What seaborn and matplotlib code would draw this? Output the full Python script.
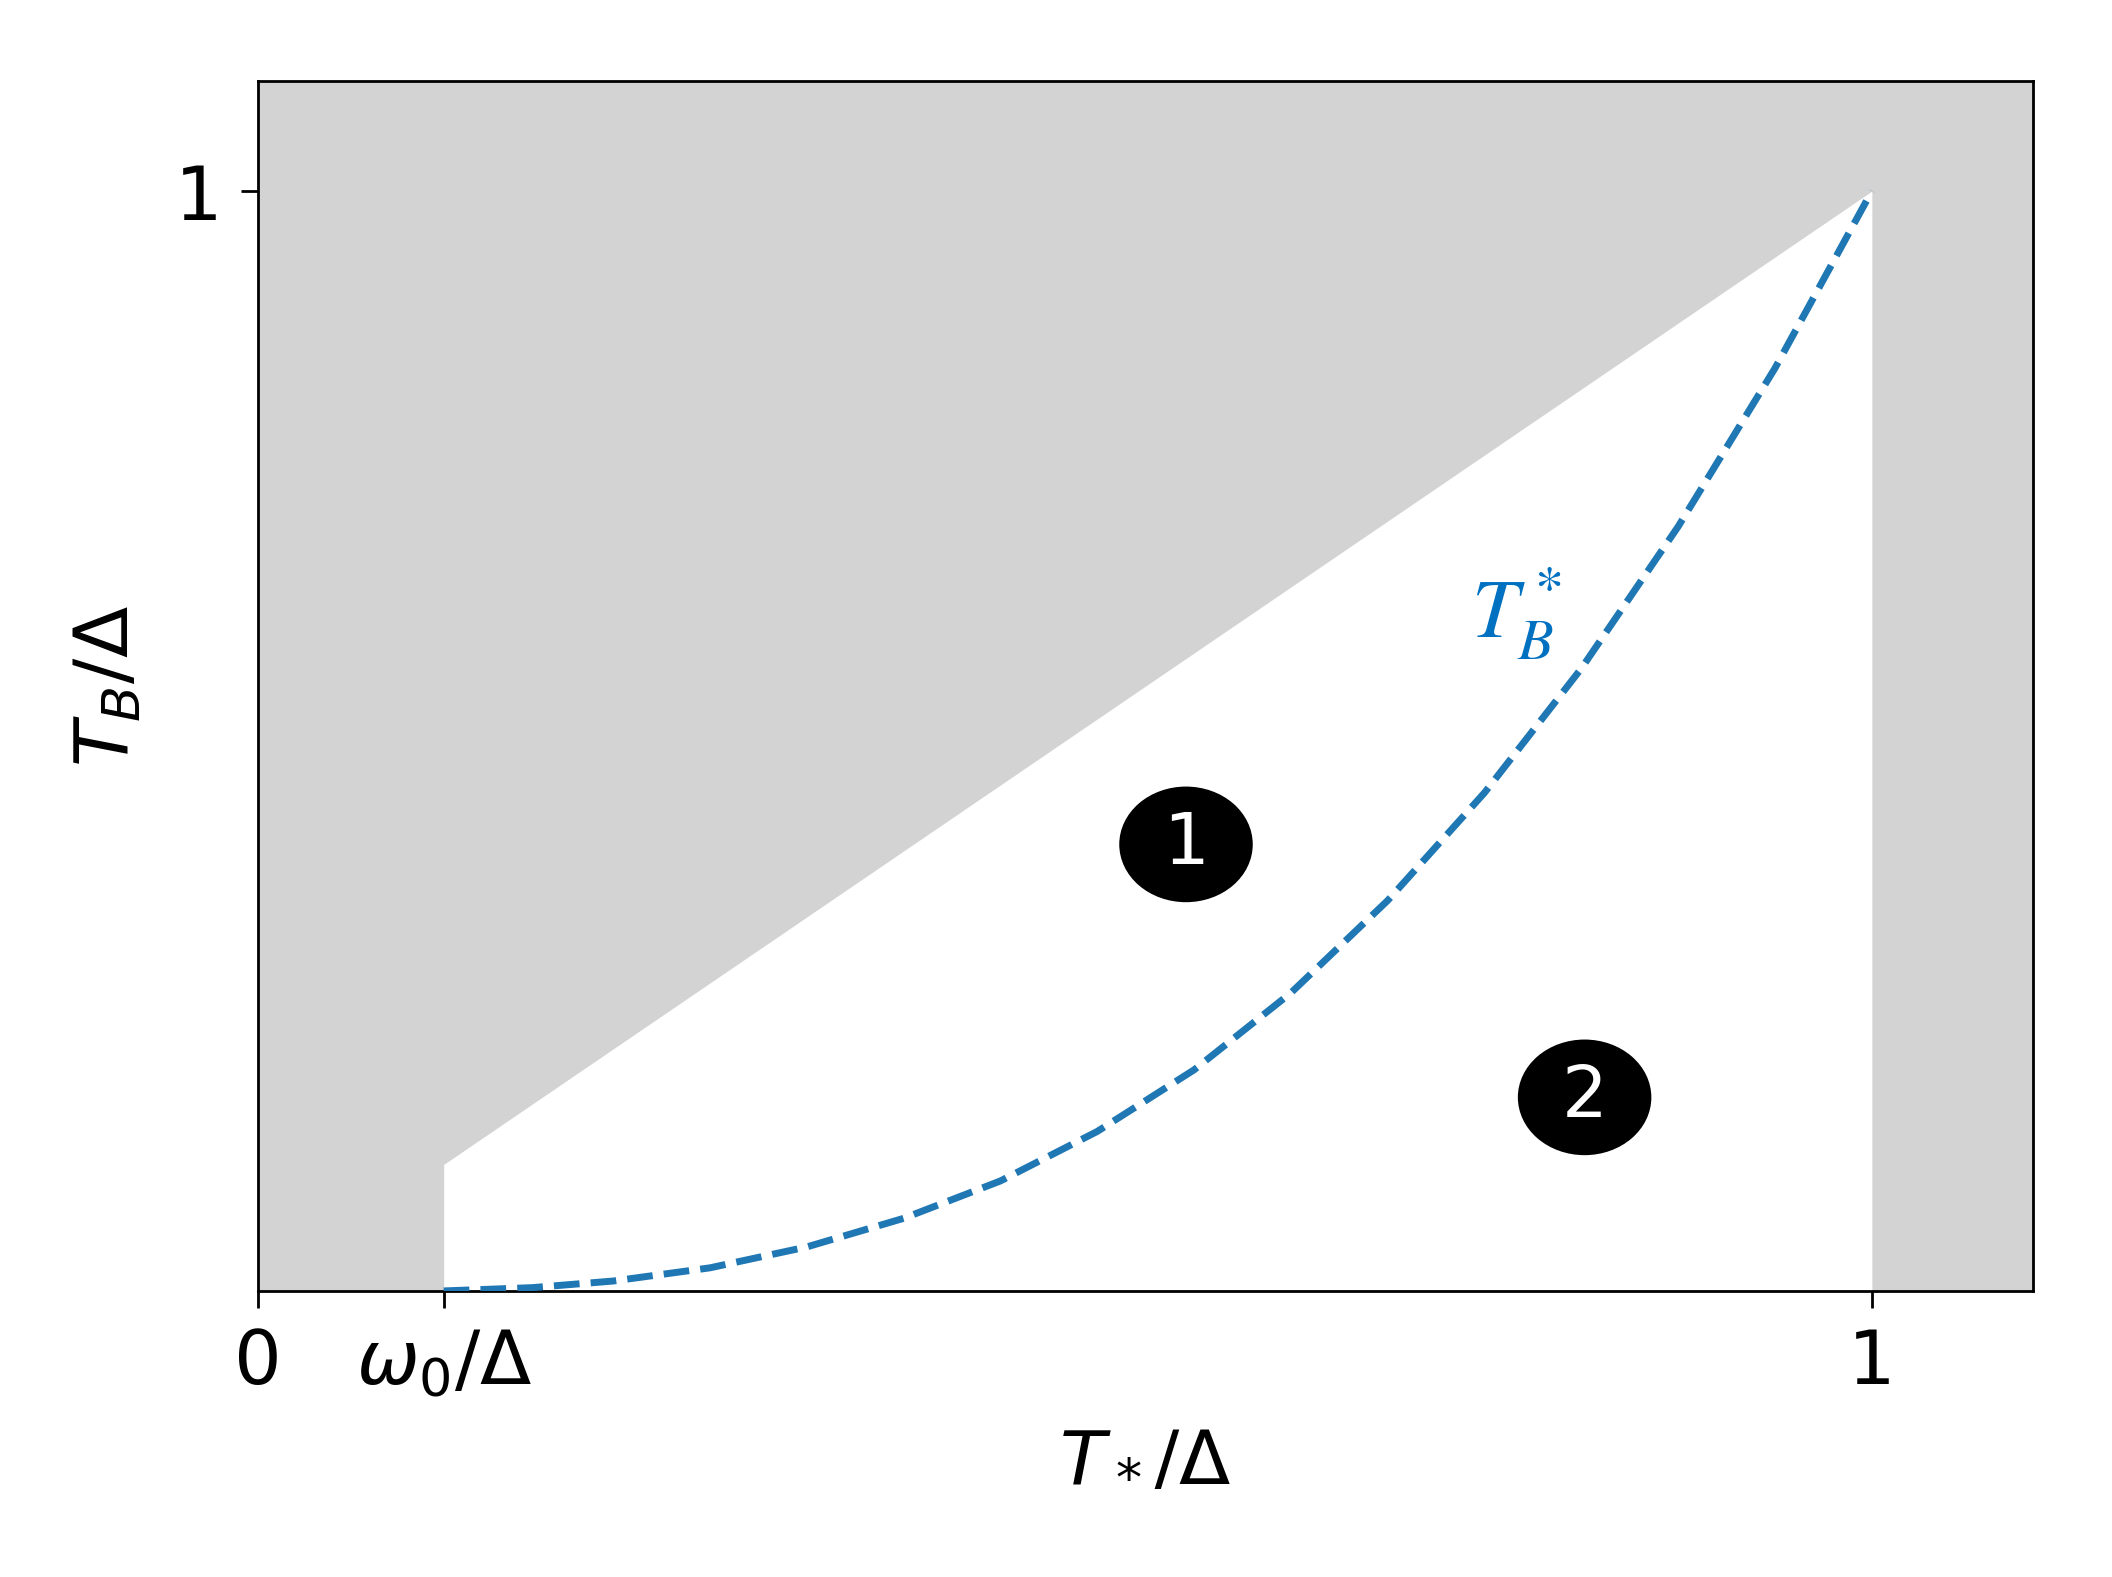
import matplotlib
matplotlib.use("Agg")
import matplotlib.pyplot as plt
from matplotlib.patches import Ellipse
import pandas as pd
import seaborn as sns

# omega_0 / Delta
omega0 = 0.115

# T_B^* curve (dashed)
ts_vals = [0.115, 0.17, 0.22, 0.28, 0.34, 0.40, 0.46, 0.52, 0.58,
           0.64, 0.70, 0.76, 0.82, 0.88, 0.94, 1.0]
tb_vals = [0.0, 0.003, 0.009, 0.021, 0.040, 0.066, 0.100, 0.145, 0.201,
           0.271, 0.355, 0.453, 0.566, 0.695, 0.839, 1.0]

# white (allowed) region: between omega_0 and 1, below T_B = T_*
region_x = [omega0, 1.0]
region_top = [omega0, 1.0]

xtick_pos = [0, omega0, 1]
xtick_labels = ["0", r"$\omega_0/\Delta$", "1"]
ytick_pos = [1]
ytick_labels = ["1"]

region_ids = ["1", "2"]
region_xy = [(0.575, 0.406), (0.822, 0.176)]

sns.set_style("ticks")
plt.rcParams["font.family"] = ["DejaVu Sans"]
plt.rcParams.update({"text.color": "black", "axes.labelcolor": "black",
                     "xtick.color": "black", "ytick.color": "black"})

fig = plt.figure(figsize=(10.56, 7.885), dpi=200)
ax = fig.add_axes([0.1222, 0.1814, 0.8405, 0.7672])

ax.set_facecolor("#d3d3d3")
ax.fill_between(region_x, 0, region_top, color="white", lw=0, zorder=1)

df = pd.DataFrame({"Ts": ts_vals, "TB": tb_vals})
sns.lineplot(data=df, x="Ts", y="TB", ax=ax, color="#1f77b4",
             linestyle="--", lw=2.5, zorder=3)

ax.set_xlim(0, 1.1)
ax.set_ylim(0, 1.1)
ax.set_xticks(xtick_pos, xtick_labels)
ax.set_yticks(ytick_pos, ytick_labels)
ax.tick_params(labelsize=27, length=6, width=1.0, pad=7, color="black",
               labelcolor="black")

for s in ax.spines.values():
    s.set_color("black")
    s.set_linewidth(1.0)

ax.set_xlabel(r"$T_*/\Delta$", fontsize=27)
ax.set_ylabel(r"$T_B/\Delta$", fontsize=27)
ax.xaxis.set_label_coords(0.5, -0.108)
ax.yaxis.set_label_coords(-0.064, 0.5)

ax.text(0.78, 0.615, r"$T_B^*$", color="#0070C0", fontsize=30,
        math_fontfamily="stix", ha="center", va="center", zorder=4)

for lab, (cx, cy) in zip(region_ids, region_xy):
    ax.add_patch(Ellipse((cx, cy), 0.081, 0.1026, color="black", zorder=4))
    ax.text(cx, cy, lab, color="white", fontsize=26, ha="center",
            va="center", zorder=5)

fig.savefig("out.png", dpi=200)
plt.close(fig)
